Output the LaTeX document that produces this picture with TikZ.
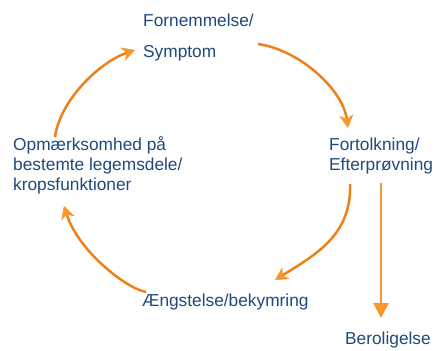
\documentclass[tikz,border=0pt]{standalone}
\usepackage{fontspec}
\setmainfont{Liberation Sans}
\usetikzlibrary{arrows.meta}
\definecolor{txtblue}{RGB}{31,73,125}
\definecolor{arrorange}{RGB}{236,130,26}
\definecolor{headorange}{RGB}{247,150,46}
\tikzset{
  lbl/.style={anchor=base west, inner sep=0pt, align=left, text=txtblue,
    font=\fontsize{17.3}{19.8}\selectfont},
  cyc/.style={draw=arrorange, line width=2.5pt,
    -{Stealth[length=13pt,width=14pt,inset=4pt,color=headorange,line width=0.5pt]}},
  straight/.style={draw=headorange, line width=2.8pt,
    -{Triangle[length=15pt,width=15pt]}}
}
\begin{document}
\begin{tikzpicture}[x=1pt,y=-1pt]
\useasboundingbox (0,0) rectangle (437,351);
\node[lbl] (forn) at (143,57) {Fornemmelse/\\[11pt]Symptom};
\node[lbl] (fort) at (329,170) {Fortolkning/\\Efterprøvning};
\node[lbl] (opm) at (13,190) {Opmærksomhed på\\bestemte legemsdele/\\kropsfunktioner};
\node[lbl] (aeng) at (142,306) {Ængstelse/bekymring};
\node[lbl] (berol) at (345,344) {Beroligelse};
\coordinate (a1s) at (258,44);
\coordinate (a1e) at (348,128);
\coordinate (a2s) at (350,184);
\coordinate (a2e) at (275,280);
\coordinate (a3s) at (146,292);
\coordinate (a3e) at (64,206);
\coordinate (a4s) at (55,137);
\coordinate (a4e) at (135,50);
\coordinate (bs) at (381,183);
\coordinate (be) at (381,318);
\draw[cyc] (a1s) .. controls (300,50) and (343,90) .. (a1e);
\draw[cyc] (a2s) .. controls (352,235) and (315,255) .. (a2e);
\draw[cyc] (a3s) .. controls (125,288) and (78,250) .. (a3e);
\draw[cyc] (a4s) .. controls (60,100) and (100,62) .. (a4e);
\draw[straight] (bs) -- (be);
\end{tikzpicture}
\end{document}
